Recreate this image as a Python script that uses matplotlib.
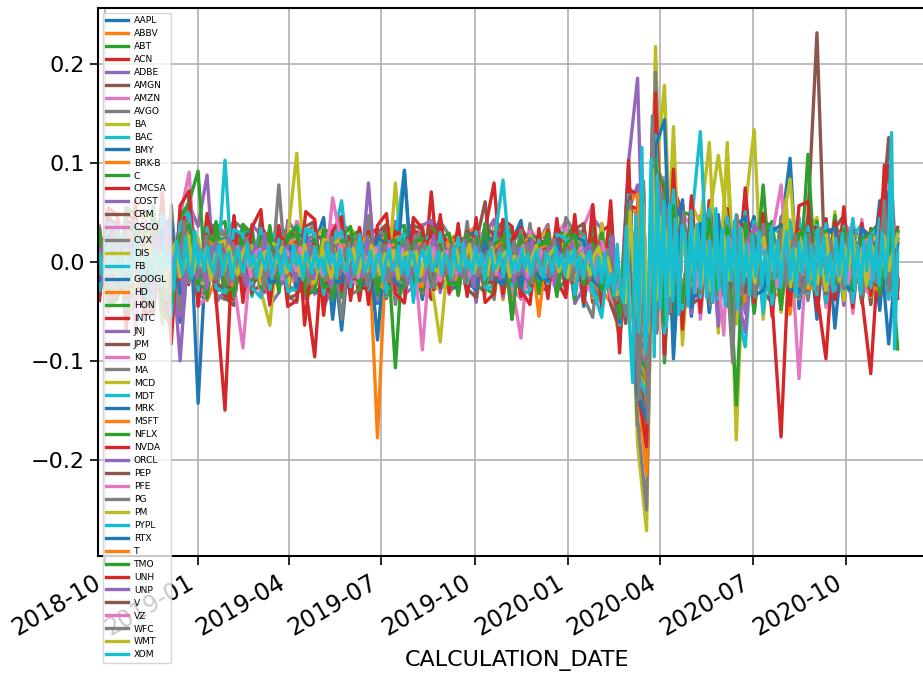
import numpy as np
import pandas as pd
import matplotlib
matplotlib.use("Agg")
import matplotlib.pyplot as plt
import matplotlib.dates as mdates

# daily returns, in units of 0.001
# most names sampled roughly every 9 days; the last names drawn (on top) are denser
tickers = ["AAPL", "ABBV", "ABT", "ACN", "ADBE", "AMGN", "AMZN", "AVGO", "BA", "BAC",
           "BMY", "BRK-B", "C", "CMCSA", "COST", "CRM", "CSCO", "CVX", "DIS", "FB",
           "GOOGL", "HD", "HON", "INTC", "JNJ", "JPM", "KO", "MA", "MCD", "MDT",
           "MRK", "MSFT", "NFLX", "NVDA", "ORCL", "PEP", "PFE", "PG", "PM", "PYPL",
           "RTX", "T", "TMO", "UNH", "UNP", "V", "VZ", "WFC", "WMT", "XOM"]

AAPL = [12, 27, -35, -18, 41, -29, -52, 33, 46, -61,
        70, -143, 28, 39, -22, -14, 36, 21, -33, 17,
        26, 34, -21, -37, 18, 45, -58, 24, -29, 31,
        -19, -42, 27, 35, -26, 19, -38, 22, 44, -16,
        31, -24, -17, 38, 26, -33, 21, 42, -19, 28,
        23, -31, 37, 19, -45, 29, -27, 48, -62, 93,
        -102, -129, 130, -78, 66, 41, -55, 24, 47, -34,
        38, -51, 22, 46, -29, -42, 33, 105, -47, 31,
        -58, 44, -67, 29, 36, -41, 27, -49, 52, 19]
ABBV = [-26, 18, 37, -41, -22, 45, 29, -34, 16, -47,
        34, 21, -39, -17, 28, 41, -26, 19, -31, 24,
        -18, 27, 35, -29, -14, 22, -36, 31, 17, -23,
        28, -178, 19, 33, -27, -16, 38, -22, 26, -31,
        -21, 29, 36, -24, 15, -38, 27, 31, -19, -27,
        25, -33, 18, 29, -22, 37, -28, -41, -46, 58,
        47, -96, 92, -57, 33, -44, 28, -35, 38, 21,
        -32, 26, -41, 35, 19, -27, 24, -39, 33, -18,
        27, -34, 22, 31, -28, 36, -21, -33, 41, -17]
ABT = [21, -34, -16, 38, 24, -29, 41, -37, -19, 33,
       45, 17, -28, 24, 31, -22, -16, 29, -24, 14,
       -17, 26, 33, -19, -28, 24, 18, -31, 27, 13,
       24, -19, -29, 17, 28, 21, -33, 26, -15, -27,
       19, 27, -22, -31, 18, 26, -35, 23, 29, -17,
       -24, 18, 31, 22, -27, -14, 35, -21, -38, 61,
       -83, -104, 96, 42, -36, 58, -22, 31, -37, 24,
       -34, 21, 38, -26, 29, 41, -33, 24, -19, 36,
       28, -22, -31, 19, 34, -26, -29, 27, -18, 23]
ACN = [-31, 38, 19, -45, 27, 36, -52, 41, -28, 43,
       51, -33, 24, 36, -29, -41, 27, 32, -18, -35,
       33, -22, 41, -31, -26, 19, 37, -28, 24, -39,
       26, 34, -37, 21, -24, 29, -31, 71, -27, 18,
       -33, 31, 24, -29, 37, -21, -26, 35, 19, -24,
       29, -19, -36, 33, 27, -41, 31, 38, -64, 74,
       -121, -118, 112, 63, -71, 44, -39, 27, 48, -33,
       41, -36, 29, -44, 33, 27, -38, 36, -29, 24,
       -31, -98, 37, 22, -28, 34, 26, -33, 29, -21]
ADBE = [34, -45, -27, 52, 38, -61, 29, 47, -39, -55,
        58, 36, 88, -41, -29, 46, -33, 38, 27, -44,
        -31, 42, 29, -37, 35, -46, -24, 39, 31, -28,
        80, -39, 27, 41, -33, -25, 37, 42, -31, 26,
        -29, 34, -41, 28, 43, -35, 24, -37, 33, 21,
        38, -27, 31, -42, -26, 45, 33, -38, -57, 102,
        186, -142, 118, -83, 71, 49, -52, 47, -39, 36,
        -45, 37, -52, 41, 29, -38, 46, -27, 35, -33,
        39, -31, 26, -44, 35, 22, -37, 43, -28, 31]
AMGN = [-23, 31, 26, -38, 22, -33, 41, 19, -45, 34,
        44, -28, -21, 33, 27, -19, 36, -29, -24, 21,
        24, 18, -31, -26, 29, 33, -22, 27, -34, 16,
        -28, 22, 35, -24, -19, 31, 17, 36, -26, -21,
        26, -33, 19, 61, -28, 29, 23, -31, 22, -25,
        -29, 31, 24, -36, 27, -21, -33, 34, -42, 48,
        -68, -83, 87, -49, 54, -52, 34, -31, 41, 26,
        33, -29, 39, -36, 24, 31, -42, 27, -23, 35,
        -31, 25, -38, 29, 21, -27, 34, -24, 28, -19]
AMZN = [37, -51, 44, 29, -68, 53, -41, 62, -74, 46,
        91, -44, -36, 38, 29, -35, 31, -27, 42, -33,
        29, -38, 41, 26, -33, -24, 37, 35, -29, 34,
        -38, 31, 27, -34, -42, 28, 33, -36, 24, -29,
        35, -27, 39, -33, 26, 29, -24, -38, 31, 23,
        -34, 28, 41, -29, 36, 58, -33, 29, -61, 63,
        72, -98, 79, 86, -53, 48, 37, -58, 41, -34,
        45, -39, 33, -49, 38, 27, 78, -41, 34, -28,
        39, -46, 31, 26, -52, 43, -29, 35, -38, 28]
AVGO = [-36, 47, 31, -57, -41, 52, 44, -63, 58, -49,
        64, -42, 46, -33, -38, 41, 34, -29, 45, -37,
        78, -34, -41, 29, 38, -44, 31, 39, -33, -28,
        47, -37, 33, -43, 29, 39, -31, -36, 41, 27,
        -33, 41, -29, 35, -38, 43, 26, -34, 39, -27,
        36, -31, 45, 29, -36, -56, 39, -33, -74, 85,
        -131, -158, 204, -91, 96, -62, 46, -39, 51, -43,
        48, -39, 36, -51, 42, 32, -46, 37, -28, 41,
        -36, 44, -32, 29, -41, 38, -27, 46, -34, 31]
BA = [28, -41, 36, -52, -33, 45, 51, -58, -47, 41,
      55, -34, 39, 27, -31, -42, 26, 35, -29, -64,
      31, -26, 37, -31, 24, 34, -27, -22, 33, 26,
      -24, 31, -35, 80, -28, 21, 32, -29, -25, 23,
      29, -22, 26, -33, 35, 24, -26, 31, -28, 22,
      34, -27, 23, -32, 28, -36, 39, -31, -78, 52,
      -184, -272, 218, -96, 88, -67, 59, 38, 121, -72,
      121, -180, 54, 134, -58, 36, -51, 43, -37, 32,
      45, -34, 51, -39, 28, 37, -43, 31, 56, -25]
BAC = [-22, 35, 28, -41, 31, -37, -24, 42, -49, 36,
       47, -27, 33, -31, -22, 26, 29, -35, 23, -28,
       21, -29, -24, 27, 32, -23, 28, -21, -26, 25,
       -29, 23, 26, -31, 28, -33, 22, 27, -26, -19,
       26, -23, 31, 17, -24, 29, -21, -27, 25, 19,
       -22, 27, -29, 23, -19, 31, -34, 21, -71, 67,
       -132, -146, 121, -78, 72, -59, 44, -37, 53, -31,
       39, -46, -86, 41, -34, 29, -39, 32, -28, 37,
       34, -29, 43, -31, 26, 38, -32, 28, 68, -24]
BMY = [24, -33, -27, 36, 31, -26, -38, 29, 41, -32,
       38, -24, 31, 26, -29, -21, 25, 33, -27, 22,
       -21, 29, 26, -33, 31, -25, -19, 31, 23, -24,
       26, -79, 29, -22, -27, 24, 31, -19, 25, -28,
       -24, 27, 31, -22, 29, -26, 19, 33, -21, -18,
       22, -28, -19, 31, 24, -27, 29, -33, -44, 44,
       -62, -71, 68, 44, -41, 37, -32, 28, -39, 33,
       31, -27, 36, -29, 23, 27, -34, 22, -31, 26,
       -24, 29, 31, -22, -33, 21, 27, -29, 35, -19]
BRK_B = [-15, 22, 18, -27, -19, 29, -24, 31, -36, 27,
         35, -19, -23, 21, 18, -26, 19, 14, -22, -17,
         16, -21, 19, 15, -23, 17, -18, -14, 21, 16,
         -17, 18, 22, -15, -19, 14, 17, -21, 16, 12,
         18, -16, -19, 21, 15, -17, 19, -14, -18, 15,
         17, -19, 14, -16, 21, 18, -22, -19, -52, 48,
         -89, -95, 84, -58, 45, -34, 29, -26, 37, -24,
         28, -31, 21, -26, 29, -19, 24, -27, 22, 18,
         -21, 25, -18, 22, -24, 19, 27, -17, 34, -16]
C = [-33, 41, 36, -48, 37, -52, 44, 29, -57, 46,
     58, -36, -31, 35, 41, -29, 38, -33, 31, -39,
     27, -34, 36, -28, -31, 33, 29, -36, 25, 32,
     -32, 28, -36, 33, 37, -29, -26, 34, 28, -31,
     34, -29, 38, -26, -33, 36, 28, -31, 27, 24,
     -29, 33, 26, -38, 35, -27, -41, 31, -83, 71,
     -165, -178, 176, -102, 93, -71, 56, -47, 62, -41,
     48, -145, 52, -43, 37, -51, 35, -39, 44, -32,
     41, -36, 47, -29, 34, -42, 31, 39, 91, -28]
CMCSA = [26, -36, -31, 42, 37, -29, 45, -38, -51, 34,
         41, -27, 33, 29, -24, -38, 26, -31, 36, 22,
         -27, 32, 24, -35, 29, -23, -33, 27, 21, -29,
         31, -23, 34, -28, -21, 32, 27, -24, 29, 19,
         -22, 31, -27, 33, 80, -32, 24, -35, 28, -21,
         33, -26, 21, -31, 36, -29, 25, -41, -61, 57,
         54, -112, 98, -63, 58, -45, 37, -32, 46, -38,
         39, -34, 75, -29, 33, -43, 27, 36, -31, 25,
         32, -39, 28, -24, 41, -33, 26, -29, 37, -21]
COST = [18, -26, -21, 29, 25, -23, 31, -35, 24, -19,
        28, -21, 24, 17, -19, -24, 18, 22, -21, 19,
        -18, 23, 15, -21, 22, -17, -19, 16, 21, -14,
        22, -17, -19, 21, 15, -18, 19, 16, -17, 20,
        -16, 19, 21, -15, -21, 19, 17, -15, 20, 13,
        -19, 16, 21, -17, 18, 22, -20, 19, -45, 52,
        78, -66, 71, -49, 35, -31, 27, -24, 34, -28,
        29, -24, 33, -27, 22, -31, 25, 21, -26, 23,
        -22, 27, -19, 24, -23, 21, 26, -20, 28, -18]
CRM = [-35, 44, 38, -53, 47, -41, -39, 55, -61, 48,
       56, -38, 41, 33, -36, -44, 31, -29, 42, -35,
       29, -37, -33, 36, 41, -31, 27, 38, -29, 31,
       -36, 29, 38, -32, -27, 37, 33, -25, 36, -29,
       32, -27, -36, 34, 29, 41, -58, 27, -33, 24,
       -31, 36, -25, 33, 39, -34, 28, -43, -67, 78,
       -108, -131, 126, -72, 74, 51, -43, -36, 57, -39,
       46, -38, 53, -32, 41, -44, 34, 39, -28, 47,
       232, -41, 34, 47, -36, 29, -43, 38, -31, 35]
CSCO = [27, -38, 31, -44, -36, 41, 35, -29, -52, 36,
        45, -31, -35, 27, 32, -38, 26, 24, -33, -27,
        24, -31, 28, -36, 26, 22, -29, 33, -25, 21,
        -31, 27, 23, -33, -28, 24, 31, -26, 22, -33,
        25, -22, 32, 26, -28, 29, -24, -77, 31, -21,
        26, -29, 34, -23, -21, -32, 27, -36, -53, 61,
        -96, -108, 101, 51, -55, 42, -34, -37, 41, -28,
        36, -31, 28, -41, 34, 25, -32, 29, -118, 37,
        -27, 33, -24, 39, 29, -22, -35, 28, 43, -23]
CVX = [-21, 31, 27, -36, -33, 26, 38, -32, -44, 29,
       41, -24, 29, -33, 22, 27, -29, -21, 26, -31,
       21, -25, -29, 23, 27, -28, 21, 25, -22, 28,
       -23, 29, -19, 25, -31, 22, 27, -24, -22, 21,
       25, -22, 27, -29, 19, 23, -21, 31, -26, 18,
       -29, 23, -26, 21, -32, 22, -38, 27, -74, 63,
       -158, -251, 192, -97, 86, -63, 61, -46, 48, -37,
       41, -36, 29, -43, 34, -31, 38, -27, 32, -39,
       27, -32, 36, -25, 31, -41, 28, 24, 74, -29]
DIS = [22, -31, -26, 37, 32, -24, 39, -33, -44, 31,
       36, 24, -28, 21, -26, -31, 23, 19, -27, 24,
       -21, 26, 110, -33, 24, -29, 21, 26, -23, 19,
       26, -22, -28, 23, 19, -26, 31, -21, 23, -19,
       -21, 24, 19, -27, 23, -22, 25, -29, 26, 17,
       24, -21, 28, -25, 19, -31, 22, -27, -56, 38,
       -128, -141, 112, -69, 137, -84, 41, -37, 52, -34,
       115, -63, 46, -38, 32, -29, 41, -26, 34, -31,
       29, -24, 37, -32, 23, 28, -35, 26, 39, -22]
FB = [-31, 39, 35, -51, 44, -29, -37, 52, -61, 41,
      51, -33, 38, -31, 103, -39, 32, -26, -36, 29,
      25, -32, 37, 24, -29, -36, 22, 33, -27, 24,
      -29, 26, -35, 22, 92, -41, 29, -25, 32, -21,
      27, -23, 34, -29, -22, 31, 26, -28, -32, 25,
      -24, 29, -21, 35, 27, -33, -39, 26, -62, 66,
      -97, -124, 113, -68, 69, -46, 39, 132, -51, 37,
      -43, 48, -36, 41, -52, 34, 29, -38, 45, -31,
      37, -41, 32, -28, 44, -33, 27, 36, -29, 24]
GOOGL = [23, -33, -29, 37, 31, -28, 43, -35, -47, 33,
         42, -26, 31, -23, -28, 33, 24, -21, 29, -25,
         21, -28, 25, 29, -31, -23, 19, -69, 23, 21,
         -26, 29, 22, -27, 93, -31, 21, -25, 28, -19,
         24, -21, -28, 27, 21, 31, -23, 26, -29, 22,
         -21, 27, -24, 31, 22, -25, -35, 23, -57, 56,
         -83, -116, 92, -62, 61, 43, -37, -31, 45, -34,
         37, -29, 41, -33, 27, 34, -39, 26, -31, 29,
         -28, 34, -25, 31, -36, 27, -23, 62, 29, -21]
HD = [-19, 28, 23, -34, 31, -27, -26, 35, -41, 29,
      38, -23, -27, 26, 21, -25, 28, 19, -24, -26,
      19, -24, 27, -21, -23, 26, 21, -25, 19, 22,
      -24, 21, 26, -23, 19, -22, -25, 21, 23, -25,
      21, -23, 25, 19, -26, 21, -22, 17, 24, -55,
      21, -25, 19, 26, -22, 24, -31, -21, -55, 54,
      -121, -215, 168, -83, 79, -48, 42, -34, 47, -29,
      34, -28, 39, -31, 25, -37, 29, -53, 23, 31,
      -25, 29, -23, 34, -27, 21, 25, -29, 36, -20]
HON = [21, -29, 25, -34, -27, 31, 36, -29, -41, 27,
       37, -23, -27, 21, 24, -29, 21, 18, -26, 22,
       -19, 24, 28, -21, 23, -27, -19, 22, 21, -25,
       22, -26, 19, 23, -25, 21, -28, 21, 24, -18,
       -22, 21, 25, -23, 19, 24, -58, 21, -24, 19,
       23, -25, -21, 28, 24, -21, 29, -24, -59, 59,
       -104, -127, 118, -66, 64, -41, 36, -32, 48, -35,
       39, -32, 43, -29, 78, -36, 28, 33, -27, 25,
       -29, 31, -25, 36, -30, 23, 27, -24, 42, -21]
INTC = [32, -41, -36, 48, 43, -37, 51, -44, -57, 39,
        49, -31, 36, 29, -33, -38, 28, -24, 34, -31,
        25, -32, 34, -27, -96, 31, 27, -29, 26, -24,
        -29, 26, -33, 31, 24, -27, -21, 32, -26, 21,
        27, -24, 31, -22, 29, -27, 23, 34, -29, 22,
        -26, 31, -23, 35, -29, 25, -37, 28, -71, 74,
        68, -142, 129, -84, 71, -57, 41, -38, 53, -36,
        43, -37, 51, -32, 36, -41, -177, 31, -29, 38,
        34, -29, 41, -26, 32, -35, -113, 28, 37, -24]
JNJ = [16, -21, -18, 26, 23, -19, 29, -24, 21, -100,
       31, -18, 22, 15, -19, -23, 16, 14, -20, 17,
       -15, 19, 17, -16, 20, -17, 18, 15, -19, 16,
       -18, 19, 14, -18, -21, 16, 17, -17, 19, -14,
       17, -16, 19, -18, 14, 18, -17, 20, -16, 13,
       -17, 18, -14, 20, 17, -16, -21, 17, -46, 47,
       -69, -58, 79, -51, 38, -32, 27, -24, 35, -28,
       26, -23, 29, -25, 21, -27, 23, 19, -22, 24,
       -21, 25, -18, 22, -24, 19, 23, -17, 27, -16]
JPM = [-19, 28, -34, 24, 31, -29, -27, 36, -44, 31,
       40, -24, 28, -22, -26, 29, 21, -19, 27, -23,
       -19, 25, -28, -21, 24, 26, -21, -18, 23, -25,
       -21, 26, -23, 19, 27, -24, 21, -25, 18, -22,
       22, -19, 26, -23, -18, 25, 21, -28, 23, 16,
       -22, 24, 19, -29, 23, -21, -35, 23, -68, 61,
       -112, -149, 141, -76, 74, -49, 43, -38, 51, -33,
       37, -42, 39, -31, 28, -34, 41, -26, 33, -29,
       27, -32, 35, -24, 30, -37, 25, 22, 126, -26]
KO = [15, -20, -17, 24, 21, -18, 27, -22, -29, 19,
      24, -17, 21, 16, -18, -22, -87, 20, -16, 15,
      -18, 16, 21, -15, 18, -19, -16, 14, 19, 16,
      -17, 19, 15, -18, -20, 16, 21, -18, 17, -14,
      16, -18, 19, 15, -21, 15, -17, 20, -19, 14,
      -16, 18, -20, 17, 15, -19, 21, -17, -54, 52,
      -71, -86, 83, -57, 44, -35, 29, -26, 38, -31,
      28, -24, 32, -27, 22, -29, 25, 21, -23, 26,
      -22, 24, -20, 27, -23, 19, 22, -25, 31, -18]
MA = [-29, 37, 33, -45, 41, -34, -33, 46, -53, 38,
      48, -29, -33, 28, 31, -36, 27, -22, 33, -28,
      23, -31, 33, -24, -29, 31, 24, -58, 21, 27,
      -25, 31, 27, -26, -29, 23, 32, -26, 20, -23,
      26, -22, 29, -25, 21, 28, -23, 32, -27, 19,
      -24, 29, -21, 34, 27, -22, -36, 25, -79, 72,
      -138, -166, 165, -88, 83, -54, 47, -41, 56, -37,
      42, -35, 49, -39, 34, -31, 43, 29, -36, 32,
      -31, 37, -27, 34, -39, 28, -24, 41, 32, -22]
MCD = [17, -23, -19, 27, 24, -21, 29, -25, -31, 22,
       27, -19, 22, 16, -19, -24, 18, 15, -22, 18,
       16, -20, -18, 17, 21, -18, 19, -15, 18, 16,
       -18, 21, 15, -19, -22, 16, 19, -18, 19, -15,
       18, -17, 21, -19, 16, 20, -18, 22, -17, 15,
       -18, 20, 16, -21, 19, -17, -23, 18, -51, 49,
       -98, -112, 84, 179, -87, 51, -36, 32, -28, 37,
       31, -26, 35, -29, 24, -31, 27, 84, -25, 28,
       -23, 26, -21, 29, -25, 22, 24, -27, 32, -19]
MDT = [19, -27, 24, -33, -29, 23, 34, -28, -37, 25,
       32, -21, -25, 19, 23, -27, 19, 17, -24, 21,
       18, -23, 26, -19, -22, 24, 19, 62, -21, 16,
       20, -24, -18, 21, 25, -19, -23, 20, -18, 22,
       20, -18, 24, -21, 17, 23, -19, 26, -22, 16,
       -19, 23, -17, 26, 21, -18, -28, 20, -52, 53,
       -91, -104, 95, -59, 52, -38, 33, -29, 41, -31,
       34, 28, -37, 31, -25, -29, 32, 24, -28, 26,
       24, -29, 31, -23, 27, -32, 22, 26, 51, -20]
MRK = [-17, 25, 21, -30, 28, -24, -22, 32, -38, 26,
       35, -21, -24, 18, 23, -27, 20, 16, -23, -19,
       17, -22, 25, -18, -21, 23, 18, 20, -17, 22,
       -19, 23, 17, -20, -24, 18, 22, -19, 17, -21,
       -19, 17, -23, 20, -16, -22, 18, -24, 21, -15,
       -18, 22, -16, 25, 20, -17, -26, 19, -49, 48,
       -76, -89, 82, -54, 47, -36, 31, -27, 38, -29,
       32, -26, 35, -29, 23, -27, 30, -22, 26, -24,
       23, -27, 29, -21, 25, -30, 21, 24, -83, 19]
MSFT = [21, -31, -26, 36, 33, -27, 39, -32, -45, 29,
        40, -24, 29, 21, -26, -31, 23, -19, 28, -22,
        19, -26, 29, -20, -24, 27, 21, 23, -20, 25,
        22, -26, -19, 24, 27, -20, -25, 22, -19, 24,
        21, -19, 26, -23, 18, 25, -20, 27, -24, 17,
        -20, 25, -18, 28, 23, -19, -31, 22, -58, 61,
        69, -148, 132, -72, 68, -44, 39, -34, 47, -31,
        -36, 29, -40, 33, 26, -31, -35, 25, 30, -27,
        -26, 31, -33, 23, -28, 34, -24, -29, 38, 21]
NFLX = [34, -45, -38, 55, 49, -42, 57, -51, -64, 44,
        61, 92, -37, 41, -31, -34, 38, 29, -25, 37,
        -31, 27, 36, -34, -29, 33, -38, 25, 36, -29,
        26, -33, 31, -107, 35, -27, 31, -38, 24, 29,
        -34, 29, -25, 39, -31, 27, 35, -28, 24, -32,
        29, -35, 24, 38, -29, 43, -27, 32, -43, 47,
        -62, -81, 96, 78, -63, 51, 47, -39, 54, -45,
        49, -41, 37, -52, 43, 34, -48, 39, -31, 109,
        -44, 38, -32, 47, -41, 36, -29, 43, -37, 31]
NVDA = [-39, 55, 47, -68, 61, -52, -49, 71, -83, 57,
        72, -45, 49, -37, -150, 47, -41, 35, 53, -43,
        37, -45, -39, 51, 43, -54, 31, 46, -39, 35,
        -43, 37, 49, -32, -41, 45, 34, -37, 48, -31,
        39, -35, 45, -41, -32, 43, 36, -29, -43, 34,
        -37, 44, -31, 48, -41, 58, -47, 62, -92, 103,
        -125, -187, 171, -93, 94, -68, 67, -51, 62, -46,
        54, -47, 63, -41, 49, -55, 38, -44, 57, 61,
        -49, 43, -38, 56, -46, 39, -34, 51, 98, -37]
ORCL = [19, -28, -24, 33, 29, -23, 36, -30, -41, 27,
        37, -22, 27, 18, -23, -28, 21, -18, 25, 20,
        -18, 23, 26, -19, 23, -25, -20, 22, 19, -24,
        21, -25, 17, 22, -26, 19, 24, -21, 18, -23,
        -20, 18, 25, -22, 17, 24, -19, 27, -23, 16,
        19, -24, 17, 28, -22, 18, -29, 21, -54, 56,
        -88, -103, 96, -61, 54, -39, 35, -30, 43, -65,
        34, -28, -71, 37, 25, -30, 33, -23, 28, -25,
        24, -29, 31, -22, 27, -32, 23, 28, 35, -20]
PEP = [16, -22, 19, -27, -23, 20, 28, -24, -31, 21,
       26, -18, -21, 16, 20, -23, 17, 14, -20, 18,
       15, -19, 18, -16, -20, 17, 19, 16, -18, 17,
       -17, 20, 15, -18, -21, 16, 19, -17, 18, -15,
       17, -16, 20, -18, 15, 19, -17, 21, -16, 14,
       -17, 19, -15, 21, 18, -16, -22, 17, -52, 54,
       -76, -92, 83, -55, 42, -34, 29, -25, 36, -29,
       28, 24, -31, 26, -22, -28, 24, -20, -23, 25,
       -21, 25, -19, 23, -24, 20, 22, -26, 29, -18]
PFE = [18, -25, -21, 31, 27, -22, 33, -27, -36, 24,
       31, -20, 24, 17, -21, -26, 19, -16, 23, 19,
       -17, 22, 25, -18, 21, -24, 65, 19, -18, -23,
       22, -24, 17, 20, -23, 18, -89, 21, -19, 17,
       -19, 17, 23, -20, 16, 22, -18, 25, -21, 15,
       18, -22, 16, 25, -20, 17, -26, 19, -46, 45,
       -63, -74, 72, -49, 37, -32, 27, -24, 34, -26,
       29, -24, 32, -27, 22, -26, 29, -21, 25, -23,
       22, -26, 28, -20, 24, -29, 21, 25, 78, -19]
PG = [15, -20, 18, -24, -21, 19, 26, -22, -29, 19,
      23, -17, -19, 15, 18, -21, 16, 13, -19, 16,
      14, -18, 17, -15, -19, 16, 18, 15, -17, 16,
      -16, 19, 14, -17, -20, 15, 18, -16, 17, -14,
      16, -15, 19, -17, 14, 18, -16, 20, -15, 13,
      -16, 18, -14, 20, 17, -15, -21, 16, -48, 47,
      -79, -87, 91, -53, 39, -31, 26, -23, 33, -27,
      -26, 22, 29, -24, -21, 26, -23, 19, 22, -24,
      20, -23, 18, -22, 23, -19, -21, 24, 27, -17]
PM = [18, -25, 21, -31, -27, 22, 33, -27, -36, 23,
      31, -20, -23, 18, 22, -25, 19, 16, -22, 19,
      17, -22, 25, -18, -21, 23, 19, 22, -19, 23,
      -20, 24, 17, -21, -23, 18, 22, -19, -81, 17,
      19, -17, 23, -20, 16, 22, -18, 25, -21, 15,
      -18, 22, -16, 24, 20, -17, -26, 19, -55, 57,
      -109, -132, 121, -67, 64, -42, 37, -32, 45, 108,
      39, -36, 41, -32, 26, -31, 34, -24, 29, -26,
      24, -29, 31, -22, 27, -33, 23, 27, 62, -21]
PYPL = [-29, 38, 33, -47, 41, -34, -36, 48, -55, 39,
        49, -29, 35, -26, -31, 33, 28, -23, 34, -28,
        23, -30, -27, 34, 29, -33, 21, 31, -25, 28,
        -28, 24, -32, 21, 28, -36, 23, -26, 30, -21,
        25, -22, 31, -26, 19, 83, -24, 28, -29, 22,
        -22, 28, 24, -33, 25, -27, -56, 24, -64, 68,
        -112, -136, 128, -72, 73, -48, 41, -36, 54, -38,
        46, -39, 51, -34, 38, -43, 32, 41, -32, 36,
        -33, 39, -29, 36, -41, 31, -26, 44, -37, 28]
RTX = [-19, 27, 24, -34, 31, -26, -28, 33, -41, 27,
       37, -22, 26, 19, -24, -28, 21, -17, 25, -21,
       -18, 23, -26, 19, 22, -25, -19, -21, 18, -24,
       -20, 25, 18, -21, -25, 19, 23, -20, 18, -22,
       -20, 18, -24, 21, -17, -23, 19, -26, 22, -16,
       -19, 23, -17, 26, 21, -18, -28, 20, -61, 62,
       -133, -159, 117, 144, -98, 63, -46, 39, -51, 48,
       -43, 37, 46, -34, -29, 32, 37, -27, -31, 29,
       -25, 31, 34, -23, -28, 34, 23, -27, 71, -22]
T = [16, -23, -19, 27, 24, -20, 29, -25, -31, 21,
     27, -19, 22, 16, -20, -24, 18, -15, 21, 17,
     -16, 20, 19, -17, 21, -18, -19, 16, 18, -20,
     18, -21, 15, 19, -22, 17, 20, -18, 19, -16,
     -18, 17, 21, -19, 15, 20, -18, 22, -17, 15,
     18, -20, 16, 22, -19, 17, -23, 18, -53, 55,
     -82, -97, 89, -56, 46, -35, 30, -26, 37, -30,
     29, -25, 33, -27, 23, -29, 26, 21, -24, 27,
     -22, 26, -20, 24, -25, 21, 23, -27, 31, -19]
TMO = [20, -29, -24, 34, 31, -25, 37, -31, -42, 27,
       38, -23, 27, 19, -24, -30, 21, -18, 26, 21,
       -18, 24, 27, -20, 23, -26, -21, 22, 19, -25,
       21, -26, 18, 22, -26, 19, 24, -21, 18, -23,
       -21, 19, 25, -22, 18, 24, -20, 27, -23, 17,
       20, -24, 17, 28, -23, 19, -29, 21, -56, 58,
       -94, -109, 104, -64, 57, -41, 35, -31, 44, -33,
       36, -29, 39, -32, 26, -31, 34, -25, 29, 26,
       -27, 31, -23, 34, -29, 24, 27, -32, 38, -88]
UNH = [-14, 24, -7, 31, -21, 10, -36, 17, 5, -27,
       20, -9, 34, -29, 6, -42, 25, 13, -18, 45,
       -23, 12, 17, -10, 28, -6, -20, 14, 9, -25,
       21, -5, -15, 27, 3, -19, 11, -30, 15, 4,
       -8, 24, 9, -13, 20, 5, -64, -24, 18, -2,
       12, -21, 27, -6, -14, 9, 22, -17, 4, 15,
       -26, 10, 7, -12, 19, -22, 14, -3, -16, 24,
       6, -18, 13, 21, -9, -28, 16, 5, -13, 19,
       -7, 14, -23, 10, 26, -15, 3, 12, -20, 8,
       17, -11, -5, 23, -14, 7, 20, -24, 9, -6,
       13, -16, 25, -10, 4, 15, -21, 8, 11, -13,
       -18, 10, 19, -7, 14, -27, -42, -24, -62, 66,
       -51, -128, 74, -151, 137, -69, 62, 47, -52, 41,
       -37, 49, -41, 26, 35, -30, 18, -43, 32, -21,
       25, -29, 15, -34, 38, -20, 30, -36, 12, 37,
       -27, 21, -15, 32, -23, 10, 28, -19, -31, 23,
       16, -28, 34, -12, 21, -17, 8, -26, 31, -13,
       19, -32, 11, 25, -22, 7, 98, -29, 14, -21]
UNP = [13, -22, 6, -29, 18, -8, 31, -16, -4, 25,
       -18, 9, -33, 26, -5, 39, -21, -12, 17, -43,
       22, -9, -16, 13, -27, 5, 19, -14, -7, 24,
       -20, 8, 15, -25, -3, 18, -11, 29, -14, -6,
       10, -22, 16, -8, -19, 13, -5, 23, -17, 4,
       -12, 20, -26, 8, 14, -9, -21, 17, -4, -15,
       25, -10, -7, 12, -18, 21, -14, 3, 16, -23,
       -6, 18, -13, -20, 9, 27, -16, -5, 13, -19,
       7, -14, 22, -10, -25, 15, -3, -12, 19, -8,
       -17, 11, 5, -22, 14, -7, -20, 23, -9, 6,
       -13, 16, -24, 10, -4, -15, 20, -8, -11, 13,
       18, -10, -19, 7, -14, 26, -39, -23, -57, 59,
       -45, -101, 64, -118, 109, -58, 52, 43, -40, 36,
       -31, 44, -35, 22, 29, -24, 14, -37, 27, -16,
       20, -24, 11, -29, 33, -17, 25, -31, 9, 30,
       -22, 17, -11, 27, -19, 7, 23, -15, -26, 19,
       12, -23, 29, -9, 17, -13, 5, -21, 26, -10,
       15, -27, 8, 21, -17, 4, 44, -24, 11, -18]
V = [-11, 19, -6, 24, -17, 8, -29, 15, 3, -21,
     16, -4, 27, -22, 9, -35, 18, 7, -13, 36,
     -19, 11, 14, -8, 22, -5, -16, 10, 6, -20,
     17, -3, -12, 21, 5, -15, 8, -24, 12, 2,
     -7, 19, -13, 4, 16, -10, 6, -20, 14, -1,
     9, -17, 23, -5, -11, 7, 18, -14, 2, 12,
     -21, 6, 4, -9, 15, -18, 11, -3, -13, 20,
     3, -15, 10, 17, -6, -23, 13, 2, -10, 16,
     -4, 11, -19, 7, 22, -12, 1, 9, -16, 5,
     14, -8, -2, 19, -11, 4, 17, -20, 6, -3,
     10, -13, 21, -7, 1, 12, -17, 5, 8, -10,
     -15, 7, 16, -4, 11, -22, -35, -21, -62, 66,
     -48, -126, 71, -139, 132, -64, 58, 40, -46, 38,
     -33, 46, -38, 24, 32, -27, 16, -39, 29, -18,
     22, -26, 13, -31, 35, -19, 27, -33, 11, 34,
     -24, 19, -13, 29, -21, 9, 25, -17, -28, 21,
     14, -25, 31, -11, 19, -15, 7, -23, 28, -12,
     17, -29, 10, 23, -19, 6, 51, -26, 13, -20]
VZ = [9, -14, 3, 18, -11, 6, -20, 13, 4, -16,
      11, -5, 22, -17, 7, -24, 15, 2, -9, 26,
      -13, 8, 17, -6, 10, -19, 4, 12, -8, 14,
      -3, 16, -10, 5, -15, 9, 13, -7, 2, -12,
      8, -17, 11, 4, -9, 15, -2, -13, 10, 6,
      -14, 7, 12, -5, 18, -10, 3, 9, -16, 11,
      2, -8, 15, -12, 6, 17, -4, -11, 13, -7,
      10, 4, -15, 8, -3, 14, -18, 5, 11, -9,
      -6, 12, 3, -14, 16, -2, -10, 8, 5, -13,
      14, -7, 9, -11, 2, 17, -15, 6, -4, 12,
      -10, 5, 13, -8, -3, 11, -16, 7, 15, -6,
      4, -12, 9, 16, -7, -21, -29, -18, -43, 42,
      -26, -54, 38, -62, 67, -31, 24, 35, -27, 19,
      -22, 27, -17, 31, -25, 9, 21, -14, 18, -26,
      -74, 26, 14, -19, 23, -11, 29, -21, 8, 17,
      -12, 20, -25, 7, 15, -18, 24, -9, -13, 19,
      11, -23, 16, -8, 21, -14, 6, 18, -20, 9,
      -15, 13, 22, -17, 5, -11, 28, -19, 7, -10]
WFC = [-12, 21, -5, 28, -19, 9, -33, 14, 6, -24,
       17, -8, 31, -27, 3, -38, 22, 11, -16, 41,
       -21, 7, 15, -11, 26, -4, -18, 12, 8, -23,
       19, -6, -14, 24, 2, -17, 10, -28, 13, 5,
       -9, 21, -15, 7, 18, -12, 4, -22, 16, -3,
       11, -19, 25, -7, -13, 8, 20, -16, 3, 14,
       -24, 9, 6, -11, 17, -20, 13, -2, -15, 22,
       5, -17, 12, 19, -8, -26, 15, 4, -12, 18,
       -6, 13, -21, 9, 24, -14, 2, 11, -18, 7,
       16, -10, -4, 21, -13, 6, 19, -22, 8, -5,
       12, -15, 23, -9, 3, 14, -19, 7, 10, -12,
       -17, 9, 18, -6, 13, -25, -38, -19, -54, 61,
       -47, -139, 82, -163, 148, -72, 69, 54, -51, 43,
       -36, 51, -42, 28, 37, -31, 19, -44, 33, -22,
       24, -29, -102, 47, -34, 18, 29, -36, 13, 38,
       -27, 21, -15, 33, -24, 11, 28, -19, -31, 23,
       16, -28, 35, -13, 22, -17, 9, -26, 31, -14,
       19, -33, 12, 26, -21, 8, 62, -29, 15, -22]
WMT = [6, -11, 14, -3, -17, 9, 12, -21, 4, 15,
       -8, 18, -13, 2, 10, -24, 7, 19, -15, -6,
       27, -12, 9, -4, 14, -18, 5, 11, -9, 16,
       -2, -13, 8, 17, -6, 3, -15, 10, 12, -7,
       4, 15, -11, -3, 9, -14, 18, -5, 7, -10,
       13, -2, -16, 6, 11, -8, 3, 14, -12, 5,
       -9, 17, 2, -13, 8, -4, 12, -17, 6, 10,
       -3, 11, -14, 5, 16, -7, -10, 9, 2, -15,
       12, -6, 4, 18, -11, 7, -3, -13, 15, -8,
       3, 10, -15, 6, -2, 13, -9, 5, 17, -12,
       -4, 8, 14, -10, 2, -16, 11, -5, 9, 3,
       -13, 7, 15, -9, 4, -18, -33, -27, -41, 51,
       -22, -62, 58, -71, 93, -38, 46, 29, -34, 24,
       -19, 31, -26, 12, 38, -24, 16, -29, 21, -9,
       27, -18, 11, -23, 33, -14, 8, -21, 17, 25,
       -16, 9, 19, -12, 64, -25, 13, -8, 21, -17,
       6, -22, 14, 28, -11, 4, -19, 16, -7, 23,
       -13, 10, -24, 18, 7, -15, 26, -9, 12, 28]
XOM = [8, -14, 5, 19, -11, -3, 16, -22, 7, 12,
       -18, 4, 23, -9, -15, 11, 2, -19, 14, 6,
       -24, 17, -6, 9, -28, 21, 3, -12, 25, -8,
       -16, 31, -4, 12, -9, 15, -2, -11, 8, 18,
       -13, 5, 10, -17, 3, 14, -6, -10, 19, -4,
       7, -15, 11, 2, -8, 16, -12, 4, 9, -14,
       13, -5, -9, 17, -3, 6, -18, 10, 1, -11,
       15, -7, 4, -13, 19, -2, 8, -16, 12, -5,
       -9, 14, 3, -12, 7, 18, -10, -4, 11, -15,
       6, 9, -17, 2, 13, -8, -3, 16, -11, 5,
       -14, 10, 7, -19, 4, 12, -6, 15, -9, -2,
       11, -13, 8, 3, -16, 14, -5, -10, 18, -7,
       2, -12, 15, -4, 9, -18, 6, 13, -8, -3,
       10, -15, 5, 17, -11, 2, -9, 14, -6, 8,
       -13, 4, 12, -7, -16, 9, 3, -11, 15, -5,
       7, -14, 10, -2, 13, -9, 6, -17, 4, 11,
       -8, -15, 5, -21, 9, -26, -12, -34, 18, -29,
       -41, 36, -62, -122, 48, -71, 116, -93, -58, 104,
       -96, 88, -47, 61, -66, 58, -39, 44, -53, 37,
       29, -45, 52, -31, 38, -27, 47, -36, 22, -41,
       54, -28, 33, -44, 26, -19, 41, -48, 35, -22,
       18, -33, 27, -15, 31, -24, 12, -29, 36, -17,
       22, -26, 9, 31, -18, 14, -35, 20, -11, 27,
       -21, 16, -28, 33, -13, 25, -19, 8, -30, 24,
       -14, 29, -23, 11, 35, -27, 17, -32, 21, -9,
       26, -18, 13, -24, 30, -16, 21, 131, -88, 9]

series = [AAPL, ABBV, ABT, ACN, ADBE, AMGN, AMZN, AVGO, BA, BAC,
          BMY, BRK_B, C, CMCSA, COST, CRM, CSCO, CVX, DIS, FB,
          GOOGL, HD, HON, INTC, JNJ, JPM, KO, MA, MCD, MDT,
          MRK, MSFT, NFLX, NVDA, ORCL, PEP, PFE, PG, PM, PYPL,
          RTX, T, TMO, UNH, UNP, V, VZ, WFC, WMT, XOM]

start, end = "2018-09-26", "2020-11-21"

fig = plt.figure(figsize=(9.23, 6.8), dpi=100)
ax = fig.add_axes([98 / 923, 1 - 556 / 680, (935 - 98) / 923, (556 - 8) / 680])

for name, vals in zip(tickers, series):
    dates = pd.date_range(start, end, periods=len(vals))
    ax.plot(dates, np.array(vals) / 1000.0, lw=2.4, label=name)

ax.set_xlim(pd.Timestamp("2018-09-24 14:00"), pd.Timestamp("2020-12-27 19:00"))
ax.set_ylim(-0.2976, 0.2571)
ax.xaxis.set_major_locator(mdates.MonthLocator(bymonth=[1, 4, 7, 10]))
ax.xaxis.set_major_formatter(mdates.DateFormatter("%Y-%m"))
ax.set_yticks([-0.2, -0.1, 0.0, 0.1, 0.2])
ax.grid(True, color="#b0b0b0", lw=1.2)
ax.tick_params(axis="y", labelsize=16, length=6, width=1.2)
ax.tick_params(axis="x", labelsize=17, length=6.5, width=1.2, pad=4)
for lab in ax.get_xticklabels():
    lab.set_rotation(30)
    lab.set_ha("right")
for s in ax.spines.values():
    s.set_linewidth(1.5)
ax.set_xlabel("CALCULATION_DATE", fontsize=16, labelpad=7)
ax.legend(loc="upper left", fontsize=6.6, handlelength=2.4,
          handletextpad=0.62, labelspacing=0.43)

fig.savefig("out.png", dpi=100)
